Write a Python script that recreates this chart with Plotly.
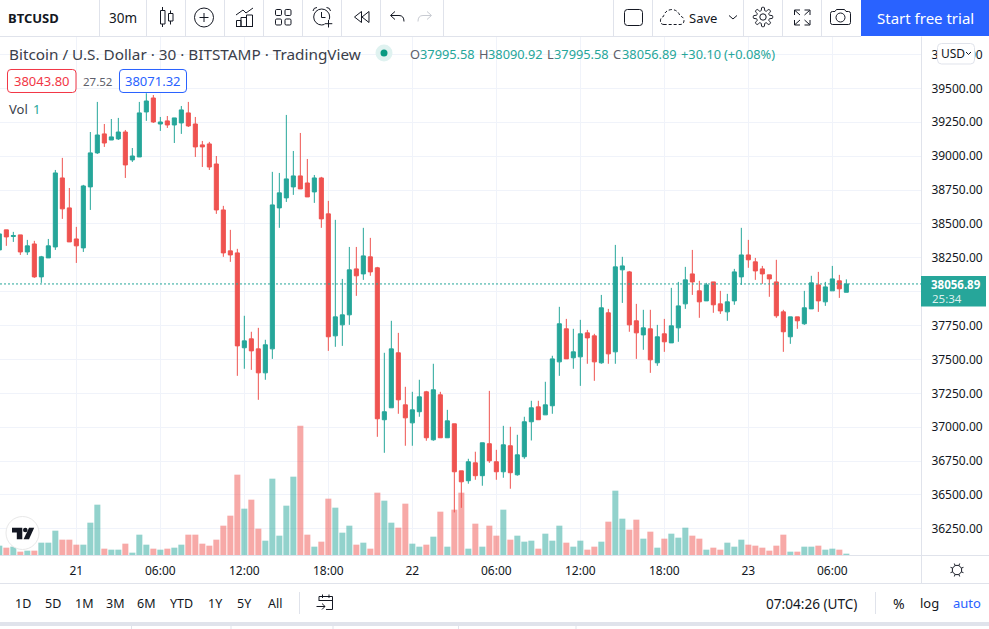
import re, math
import pandas as pd
import plotly.graph_objects as go

# ---------- data ----------
opens = [38308,38456,38407,38419,38293,38352,38109,38249,38330,38839,38618,38389,38323,38773,39024,39164,39119,39127,39178,38972,38994,39326,39429,39237,39260,39230,39245,39319,39237,39083,39090,38942,38603,38301,38286,37586,37652,37578,37401,37578,38618,38692,38773,38854,38802,38736,38839,38574,37674,37755,37829,38168,38131,38257,38176,37055,37143,37549,37165,37032,37114,37261,36907,37239,36922,37025,36678,36605,36737,36642,36878,36745,36671,36863,36649,36782,37040,37150,37091,37158,37482,37726,37512,37519,37696,37674,37475,37844,37556,38161,38146,37785,37681,37726,37475,37689,37622,37733,37910,38131,38006,37932,38072,37910,37851,37932,38109,38271,38220,38168,38124,38072,37851,37667,37814,37763,37873,38050,37925,38006,38080,37995.58]
highs = [38426,38456,38441,38419,38382,38375,38264,38389,38898,38987,38765,38478,38788,39178,39400,39237,39274,39282,39193,39060,39400,39464,39451,39289,39296,39282,39370,39400,39289,39112,39105,39001,38633,38456,38316,37822,37704,37733,37645,38884,38876,39304,39038,39171,38979,38861,38847,38670,38530,38094,38330,38330,38471,38397,38183,37549,37785,37696,37298,37261,37350,37268,37468,37261,37128,37025,36678,36767,36819,36885,37268,36833,37010,37003,36944,37077,37195,37195,37335,37527,37888,37799,37726,37792,37718,37689,37976,37873,38345,38257,38153,37910,37866,37866,37755,37799,38028,38072,38183,38308,38080,38065,38072,38006,37984,38168,38471,38382,38249,38190,38124,38235,37866,37814,37814,38006,38117,38146,38072,38190,38124,38090.92]
lows = [38308,38338,38367,38271,38271,38102,38065,38249,38308,38537,38367,38212,38293,38603,39016,39068,39119,39119,38839,38957,38994,39260,39245,39186,39208,39097,39164,39215,38994,38920,38898,38574,38257,38220,37379,37431,37423,37202,37350,37504,38471,38662,38714,38758,38699,38655,38471,37563,37593,37600,37755,37969,38087,38117,36929,36811,37143,37099,36863,36863,37077,36900,36900,36922,36922,36371,36405,36583,36612,36568,36737,36612,36627,36546,36642,36767,36902,37055,37091,37099,37379,37504,37431,37305,37468,37342,37468,37468,37468,37917,37704,37504,37571,37401,37453,37556,37622,37630,37873,37976,37807,37932,37844,37836,37785,37903,38050,38176,38087,38058,37962,37807,37556,37615,37726,37755,37873,37851,37895,38006,37954,37995.58]
closes = [38426,38404,38414,38293,38338,38109,38257,38338,38876,38611,38367,38338,38780,39024,39156,39097,39142,39178,38935,39001,39319,39407,39252,39252,39230,39282,39341,39223,39068,39068,38920,38603,38286,38271,37600,37637,37563,37401,37608,38640,38729,38832,38854,38758,38699,38839,38537,37667,37814,37829,38161,38117,38264,38146,37062,37114,37578,37202,37069,37128,37224,36922,37276,36922,37047,36671,36597,36745,36642,36885,36752,36671,36870,36664,36796,37040,37143,37055,37165,37504,37763,37504,37556,37689,37659,37482,37881,37541,38183,38190,37755,37696,37733,37497,37667,37630,37748,37895,38087,38072,37925,38050,37903,37858,37925,38146,38271,38235,38153,38131,38094,37822,37704,37814,37785,37881,38065,37932,38035,38094,38021,38056.89]
volumes = [28,22,25,10,13,13,37,37,73,46,46,31,31,97,151,19,16,16,34,7,61,31,19,16,19,22,31,61,61,34,28,46,88,118,241,139,166,79,43,229,58,148,235,388,61,25,40,169,142,67,88,31,37,19,187,163,97,82,154,34,25,31,55,130,25,136,187,19,94,25,88,58,136,46,58,40,43,19,64,43,88,37,25,43,16,25,40,100,193,109,76,106,49,70,22,49,64,52,82,58,49,16,22,16,37,25,46,31,28,22,13,28,61,10,10,25,25,28,16,19,16,4]
start_time = "2022-02-20 18:30"
bar_minutes = 30
tick_times = ["2022-02-21 00:00","2022-02-21 06:00","2022-02-21 12:00","2022-02-21 18:00","2022-02-22 00:00","2022-02-22 06:00","2022-02-22 12:00","2022-02-22 18:00","2022-02-23 00:00","2022-02-23 06:00"]
tick_labels = ["21","06:00","12:00","18:00","22","06:00","12:00","18:00","23","06:00"]
price_ticks = [36250 + 250 * i for i in range(15)]
# 38000.00 sits behind the last-price tag in the reference, so it has no visible label
price_labels = ["" if p == 38000 else f"{p:.2f}" for p in price_ticks]
ask_price, spread_text, bid_price = "38043.80", "27.52", "38071.32"

# ---------- styling ----------
UP, DOWN = "#26a69a", "#ef5350"
UP_V, DOWN_V = "rgba(38,166,154,0.5)", "rgba(239,83,80,0.5)"
INK, GRID, LINE, BLUE = "#131722", "#f0f3fa", "#e0e3eb", "#2962ff"
FONT = "Noto Sans"

W, H = 989, 629
L_T, L_B, L_R = 37, 555, 921
def fx(x): return x / L_R
def fy(y): return (L_B - y) / (L_B - L_T)

times = pd.date_range(start_time, periods=len(opens), freq=f"{bar_minutes}min")
bar = pd.Timedelta(minutes=bar_minutes)
x_start = times[0] + 0.095 * bar
x_end = x_start + (L_R / 7) * bar

fig = go.Figure()
fig.add_trace(go.Bar(x=times, y=volumes, yaxis="y",
                     marker=dict(color=[UP_V if c >= o else DOWN_V for o, c in zip(opens, closes)], line_width=0),
                     hoverinfo="skip"))
fig.add_trace(go.Candlestick(x=times, open=opens, high=highs, low=lows, close=closes, yaxis="y2",
                             increasing=dict(line=dict(color=UP, width=1), fillcolor=UP),
                             decreasing=dict(line=dict(color=DOWN, width=1), fillcolor=DOWN),
                             whiskerwidth=0))

shapes, annots = [], []

def path_px(d):
    """pixel-path string -> paper-coord path string"""
    state = {"i": 0}
    def rep(m):
        v = float(m.group(0))
        i = state["i"]; state["i"] += 1
        return f"{fx(v):.5f}" if i % 2 == 0 else f"{fy(v):.5f}"
    return re.sub(r"-?\d+\.?\d*", rep, d)

def P(d, color=INK, width=1, fill=None, dash=None):
    shapes.append(dict(type="path", xref="paper", yref="paper", path=path_px(d),
                       line=dict(color=color, width=width, dash=dash) if width else dict(width=0),
                       fillcolor=fill if fill else "rgba(0,0,0,0)"))

def rrect(x0, y0, x1, y1, r):
    return (f"M {x0+r} {y0} L {x1-r} {y0} Q {x1} {y0} {x1} {y0+r} L {x1} {y1-r} Q {x1} {y1} {x1-r} {y1} "
            f"L {x0+r} {y1} Q {x0} {y1} {x0} {y1-r} L {x0} {y0+r} Q {x0} {y0} {x0+r} {y0} Z")

def R(x0, y0, x1, y1, fill=None, color=None, width=0, r=0):
    if r:
        P(rrect(x0, y0, x1, y1, r), color or "rgba(0,0,0,0)", width, fill)
    else:
        shapes.append(dict(type="rect", xref="paper", yref="paper", x0=fx(x0), x1=fx(x1), y0=fy(y0), y1=fy(y1),
                           line=dict(color=color or "rgba(0,0,0,0)", width=width), fillcolor=fill or "rgba(0,0,0,0)"))

def C(cx, cy, rad, color=INK, width=1, fill=None):
    shapes.append(dict(type="circle", xref="paper", yref="paper",
                       x0=fx(cx-rad), x1=fx(cx+rad), y0=fy(cy+rad), y1=fy(cy-rad),
                       line=dict(color=color, width=width), fillcolor=fill or "rgba(0,0,0,0)"))

def Ln(x0, y0, x1, y1, color=LINE, width=1):
    shapes.append(dict(type="line", xref="paper", yref="paper", x0=fx(x0), x1=fx(x1), y0=fy(y0), y1=fy(y1),
                       line=dict(color=color, width=width)))

def T(text, x, y, size=13, color=INK, anchor="left", bold=False, font=FONT):
    annots.append(dict(text=f"<b>{text}</b>" if bold else text, x=fx(x), y=fy(y), xref="paper", yref="paper",
                       showarrow=False, xanchor=anchor, yanchor="middle", borderpad=0,
                       font=dict(family=font, size=size, color=color)))

# frame lines
Ln(0, 36.5, 861, 36.5)
Ln(L_R + 0.5, 36.5, L_R + 0.5, 583.5)
Ln(0, 555.5, 989, 555.5)
Ln(0, 583.5, 989, 583.5)
for sx in [99.5, 146.5, 185.5, 224.5, 263.5, 302.5, 341.5, 380.5, 443.5, 613.5, 652.5, 743.5, 782.5, 821.5]:
    Ln(sx, 0, sx, 36)
R(861, 0, 989, 36, fill=BLUE)

# last-price dotted line
shapes.append(dict(type="line", xref="paper", yref="y2", x0=0, x1=1, y0=closes[-1], y1=closes[-1],
                   line=dict(color=UP, width=1, dash="2px,2px")))

# top toolbar: text
T("BTCUSD", 7, 17.5, 13, INK, bold=True)
T("30m", 123, 17.5, 13.5, INK, "center")
T("Save", 702.5, 17.5, 13, INK, "center")
T("Start free trial", 925.5, 17.5, 15, "#ffffff", "center")

# candle icon
P("M 162.5 7 L 162.5 27 M 170.5 10.5 L 170.5 24.5")
R(160.5, 10.5, 165, 24, fill="#ffffff", color=INK, width=1)
R(168.5, 13.5, 173, 21, fill="#ffffff", color=INK, width=1)
# plus-circle
C(204, 17.5, 9.5)
P("M 204 13 L 204 22 M 199.5 17.5 L 208.5 17.5")
# indicators
P("M 236.5 26 L 236.5 20.5 L 241 20.5 L 241 26 M 241 26 L 241 17.5 L 246.5 17.5 L 246.5 26 M 246.5 26 L 246.5 15 L 252.5 15 L 252.5 26 M 236 26.5 L 253 26.5")
P("M 236 15 L 243 10 L 246 13 L 253 8")
# layouts
for (a, b) in [(275.5, 9.5), (285, 9.5), (275.5, 19), (285, 19)]:
    R(a, b, a + 6, b + 6, color=INK, width=1, r=1.2)
# alarm
C(321.7, 17, 8)
P("M 321.5 12 L 321.5 17.5 L 325.5 17.5")
P("M 313 11 Q 313.5 7.5 317 7.5 M 326.5 7.5 Q 330 7.5 330.5 11")
R(324.5, 19.5, 332.5, 27.5, fill="#ffffff")
P("M 328.5 20 L 328.5 27.5 M 324.7 23.7 L 332.3 23.7")
# rewind
P("M 361.5 11.5 L 354.5 17 L 361.5 22.5 Z M 369 11.5 L 362 17 L 369 22.5 Z")
# undo / redo
P("M 395 11.5 L 390.5 15.5 L 395 19.5 M 391 15.5 L 399 15.5 Q 404 15.5 404 21.5")
P("M 427 11.5 L 431.5 15.5 L 427 19.5 M 431 15.5 L 423 15.5 Q 418 15.5 418 21.5", color="#c8cbd2")

# rounded square
R(624.5, 9.5, 642.5, 25.5, color=INK, width=1, r=3)
# cloud
P("M 664 24.5 Q 660 24.5 660.5 20 Q 661 17 663.5 16.5 Q 665 10 672 9.5 Q 678 10 680 16 Q 684 17 684 21 Q 683.5 24.5 680 24.5 Z", dash="3px,2px")
# chevron
P("M 729 15.5 L 733 19 L 737 15.5")
# gear
cx, cy = 763, 17
pts = []
for i in range(97):
    th = 2 * math.pi * i / 96
    rad = 8.1 + 1.6 * max(-1, min(1, 1.8 * math.cos(8 * th)))
    pts.append((cx + rad * math.cos(th), cy + rad * math.sin(th)))
P("M " + " L ".join(f"{a:.2f} {b:.2f}" for a, b in pts) + " Z")
C(cx, cy, 3.2)
# fullscreen
P("M 800 10 L 794.5 10 L 794.5 15 M 795 10.5 L 800 15 M 804.5 10 L 810 10 L 810 15 M 809.5 10.5 L 804.5 15 "
  "M 794.5 20 L 794.5 25 L 800 25 M 795 24.5 L 800 20 M 810 20 L 810 25 L 804.5 25 M 809.5 24.5 L 804.5 20")
# camera
P(rrect(830.5, 11.5, 850.5, 24.5, 2))
R(835, 8.5, 846, 12, fill="#ffffff")
P("M 835 11.5 L 836.5 9.5 L 844.5 9.5 L 846 11.5")
C(840.5, 17.5, 4.5)

# legend row
T("Bitcoin / U.S. Dollar · 30 · BITSTAMP · TradingView", 7.5, 53.5, 15.3, "#3a3e4a")
C(384, 53, 8.5, color="rgba(0,0,0,0)", width=0, fill="#dff2f0")
C(384, 53, 3.5, color="rgba(0,0,0,0)", width=0, fill="#089981")
for txt, px_, col in [("O", 408.5, "#5d606b"), ("37995.58", 419, UP), ("H", 477.5, "#5d606b"), ("38090.92", 487, UP),
                      ("L", 546, "#5d606b"), ("37995.58", 553, UP), ("C", 611.5, "#5d606b"), ("38056.89", 620.5, UP),
                      ("+30.10", 680, UP), ("(+0.08%)", 722.5, UP)]:
    T(txt, px_, 54, 12.8, col)

# bid/ask chips
R(7.5, 69.5, 76, 92.5, fill="#ffffff", color="#f23645", width=1, r=3.5)
T(ask_price, 41.7, 81, 13, "#f23645", "center")
T(spread_text, 97, 81, 11.5, "#5d606b", "center")
R(119.5, 69.5, 186.5, 92.5, fill="#ffffff", color=BLUE, width=1, r=3.5)
T(bid_price, 153, 81, 13, BLUE, "center")

T("Vol", 7.5, 109, 13, "#3a3e4a")
T("1", 36.5, 109, 13, UP, "center")

# USD button
R(937.5, 43.5, 974.5, 64, fill="#ffffff", color=LINE, width=1, r=4)
T("USD", 952.5, 53, 12, INK, "center")
P("M 966 52 L 968.5 54.5 L 971 52", width=1)

# last price tag
R(L_R, 276, 986, 306.5, fill=UP)
T("38056.89", 955.5, 284, 11.5, "#ffffff", "center", bold=True)
T("25:34", 931, 298.5, 11.5, "rgba(255,255,255,0.85)")

# TV logo
C(22.5, 533, 16.5, color="#e8e8e8", width=1, fill="#ffffff")
P("M 12 527.7 L 22.3 527.7 L 22.3 539.3 L 16.8 539.3 L 16.8 532.6 L 12 532.6 Z", width=0, fill=INK)
C(25.3, 530, 2.3, color="rgba(0,0,0,0)", width=0, fill=INK)
P("M 29 527.7 L 34.2 527.7 L 29 539.3 L 23.6 539.3 Z", width=0, fill=INK)

# sun / theme icon
C(957, 570, 4.7)
sun = []
for i in range(8):
    th = math.pi / 8 + i * math.pi / 4
    sun.append(f"M {957 + 4.7*math.cos(th):.2f} {570 + 4.7*math.sin(th):.2f} L {957 + 7*math.cos(th):.2f} {570 + 7*math.sin(th):.2f}")
P(" ".join(sun))

# bottom toolbar
for txt, px_ in [("1D", 23), ("5D", 53), ("1M", 84), ("3M", 115), ("6M", 146), ("YTD", 181), ("1Y", 215), ("5Y", 244.5), ("All", 274.5)]:
    T(txt, px_, 603, 12.5, INK, "center")
Ln(299.5, 592, 299.5, 614)
# calendar icon
P("M 319 601 L 319 596.5 L 332.5 596.5 L 332.5 609.5 L 326 609.5 M 322.5 594.5 L 322.5 598 M 329 594.5 L 329 598 M 319 600.5 L 332.5 600.5")
P("M 316.5 606.5 L 325 606.5 M 322 603.5 L 325 606.5 L 322 609.5")
T("07:04:26 (UTC)", 811.5, 603, 13.6, INK, "center")
Ln(875.5, 592, 875.5, 614)
T("%", 898.5, 603, 14, INK, "center")
T("log", 929, 603, 13, INK, "center")
T("auto", 966.5, 603, 13, BLUE, "center")

# page-bottom band
R(0, 622, 989, 626, fill=LINE)
for sx in [131.5, 231, 333, 458.5, 576]:
    Ln(sx, 626, sx, 629)

fig.update_layout(
    width=W, height=H,
    margin=dict(l=0, r=W - L_R, t=L_T, b=H - L_B, autoexpand=False),
    paper_bgcolor="#ffffff", plot_bgcolor="#ffffff",
    showlegend=False, boxgap=0.42, boxgroupgap=0, bargap=0.14, dragmode=False, hovermode=False,
    font=dict(family=FONT, color=INK),
    xaxis=dict(type="date", range=[x_start, x_end], rangeslider=dict(visible=False),
               tickmode="array", tickvals=tick_times, ticktext=tick_labels,
               showgrid=True, gridcolor=GRID, gridwidth=1, zeroline=False, showline=False,
               ticks="outside", ticklen=5, tickcolor="rgba(0,0,0,0)",
               tickfont=dict(family=FONT, size=12, color=INK)),
    yaxis=dict(range=[0, 1554], visible=False, fixedrange=True),
    yaxis2=dict(range=[36057, 39879], overlaying="y", side="right", anchor="x",
                tickmode="array", tickvals=price_ticks, ticktext=price_labels,
                showgrid=True, gridcolor=GRID, gridwidth=1, zeroline=False, showline=False,
                ticks="outside", ticklen=7, tickcolor="rgba(0,0,0,0)",
                tickfont=dict(family=FONT, size=12, color=INK)),
    shapes=shapes, annotations=annots,
)
fig.write_html("out.html", config=dict(displayModeBar=False, staticPlot=True),
               post_script="document.body.style.margin='0';document.body.style.overflow='hidden';")
